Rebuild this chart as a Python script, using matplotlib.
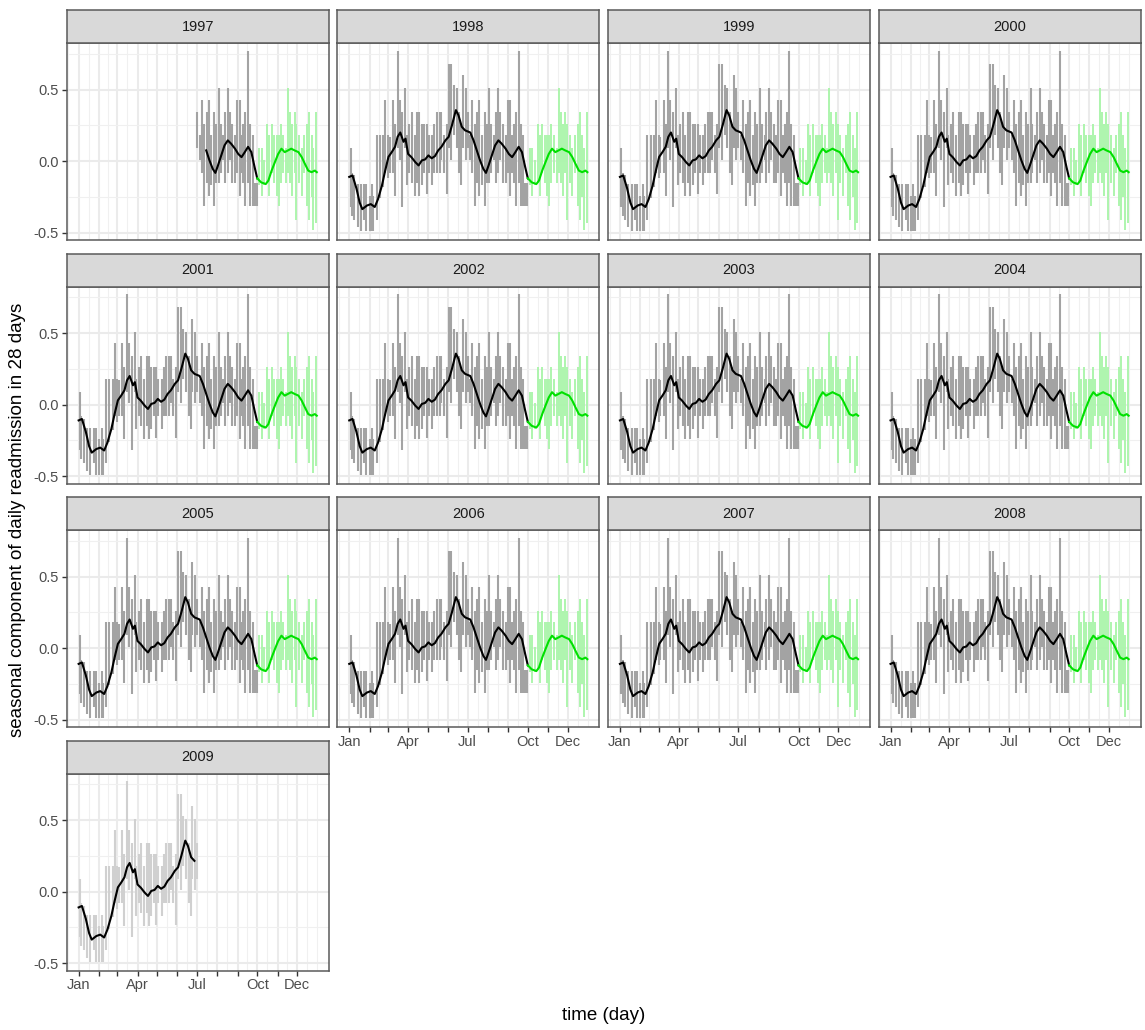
import numpy as np
import matplotlib
matplotlib.use("Agg")
import matplotlib.pyplot as plt

plt.rcParams['font.family'] = ['Liberation Sans', 'DejaVu Sans']

years = list(range(1997, 2010))

# daily seasonal component, read as spikes (day of year, top, bottom)
spike_day = [2, 4, 8, 13, 18, 23, 26, 31, 35, 37, 42, 47, 52, 55, 59, 62, 67, 70, 74, 77,
             81, 86, 88, 92, 96, 100, 104, 107, 111, 115, 119, 122, 127, 130, 134, 138, 141, 145, 149, 152,
             156, 160, 164, 168, 171, 174, 178, 181, 185, 188, 192, 196, 199, 203, 207, 210, 214, 217, 221, 224,
             228, 231, 235, 239, 242, 246, 249, 252, 255, 259, 262, 266, 269, 272, 276, 280, 284, 288, 291, 295,
             299, 303, 306, 309, 313, 317, 320, 323, 326, 330, 333, 337, 341, 345, 349, 352, 356, 359, 363]
spike_hi = [0.09, -0.08, -0.10, -0.16, -0.16, -0.16, -0.16, -0.24, -0.16, -0.24, 0.18, 0.18, 0.18, 0.43, 0.18, 0.17, 0.43, 0.26, 0.77, 0.43,
            0.34, 0.51, 0.18, 0.26, 0.34, 0.18, 0.34, 0.34, 0.26, 0.26, 0.26, 0.18, 0.18, 0.26, 0.34, 0.34, 0.34, 0.18, 0.26, 0.68,
            0.68, 0.53, 0.51, 0.34, 0.26, 0.60, 0.51, 0.34, 0.18, 0.43, 0.26, 0.34, 0.43, 0.18, 0.34, 0.26, 0.51, 0.26, 0.18, 0.34,
            0.51, 0.34, 0.26, 0.18, 0.43, 0.43, 0.18, 0.26, 0.34, 0.77, 0.26, 0.18, -0.15, -0.15, 0.09, 0.09, 0.01, 0.26, 0.18, 0.26,
            0.18, 0.18, 0.18, 0.26, 0.18, 0.09, 0.51, 0.34, 0.26, 0.34, 0.26, 0.18, 0.09, 0.18, 0.26, 0.34, 0.18, 0.09, 0.34]
spike_lo = [-0.32, -0.38, -0.41, -0.46, -0.49, -0.41, -0.49, -0.49, -0.49, -0.49, -0.41, -0.26, -0.18, -0.08, -0.12, -0.08, -0.08, -0.24, 0.09, 0.01,
            -0.32, 0.09, -0.17, -0.08, -0.15, -0.24, -0.15, -0.24, -0.17, -0.08, -0.23, -0.08, -0.17, -0.08, -0.08, -0.08, 0.01, -0.08, -0.23, 0.09,
            0.01, 0.18, 0.09, -0.08, -0.17, 0.09, 0.01, 0.09, 0.01, -0.08, -0.31, -0.15, -0.24, -0.17, -0.31, -0.15, -0.15, -0.08, 0.01, -0.15,
            -0.08, 0.01, -0.15, -0.15, -0.08, -0.24, -0.08, -0.15, -0.31, -0.15, -0.31, -0.31, -0.31, -0.31, -0.17, -0.24, -0.17, -0.15, -0.24, -0.08,
            -0.15, -0.24, -0.31, -0.15, -0.08, -0.15, -0.08, -0.15, -0.24, -0.08, -0.41, -0.15, -0.24, -0.08, -0.31, -0.41, -0.25, -0.48, -0.43]

# moving average of the seasonal component
smooth_day = [0, 5, 11, 16, 20, 27, 33, 39, 44, 50, 55, 60, 65, 70, 74, 78, 83, 86, 90, 95,
              101, 106, 111, 116, 121, 126, 131, 136, 141, 147, 152, 157, 163, 167, 172, 177, 185, 190, 195, 200,
              205, 209, 213, 218, 223, 228, 233, 239, 244, 249, 254, 259, 264, 269, 273, 279, 286, 290, 295, 300,
              305, 310, 315, 320, 325, 330, 336, 341, 346, 351, 356, 361, 364]
smooth_val = [-0.11, -0.10, -0.19, -0.29, -0.335, -0.31, -0.30, -0.32, -0.265, -0.17, -0.065, 0.03, 0.063, 0.10, 0.17, 0.20, 0.135, 0.157, 0.05, 0.028,
              -0.007, -0.03, 0.005, 0.012, 0.04, 0.02, 0.035, 0.075, 0.10, 0.145, 0.17, 0.25, 0.356, 0.32, 0.24, 0.215, 0.20, 0.145, 0.075, 0.005,
              -0.054, -0.082, -0.03, 0.04, 0.11, 0.145, 0.122, 0.087, 0.05, 0.028, 0.063, 0.10, 0.063, -0.042, -0.12, -0.148, -0.16, -0.136, -0.066, -0.007,
              0.05, 0.087, 0.063, 0.075, 0.087, 0.075, 0.063, 0.028, -0.02, -0.066, -0.077, -0.066, -0.077]

month_start = [0, 31, 59, 90, 120, 151, 181, 212, 243, 273, 304, 334]
month_lab = ["Jan", "", "", "Apr", "", "", "Jul", "", "", "Oct", "", "Dec"]
minor_x = [-15.5, 15.5, 45, 74.5, 105, 135.5, 166, 196.5, 227.5, 258, 288.5, 319, 349.5, 365]

oct_day = 273
first_day = {1997: 181}
last_day = {2009: 181}

W, H = 1145, 1030
fig = plt.figure(figsize=(W / 100, H / 100), dpi=100)

col_left = [66.7, 337.3, 608.0, 878.6]
row_top = [43.3, 286.8, 530.3, 773.8]
pw, ph, sh = 262, 197, 33
edge = '#5a5a5a'


def frac(x0, y0, w, h):
    return [x0 / W, 1 - (y0 + h) / H, w / W, h / H]


sd = np.array(spike_day)
shi = np.array(spike_hi)
slo = np.array(spike_lo)
md = np.array(smooth_day)
mv = np.array(smooth_val)

for k, yr in enumerate(years):
    r, c = k // 4, k % 4
    ax = fig.add_axes(frac(col_left[c], row_top[r], pw, ph))
    st = fig.add_axes(frac(col_left[c], row_top[r] - sh, pw, sh))
    st.set_facecolor('#d9d9d9')
    st.set_xticks([])
    st.set_yticks([])
    for s in st.spines.values():
        s.set_color(edge)
        s.set_linewidth(1.1)
    st.text(0.5, 0.5, str(yr), ha='center', va='center', fontsize=10.5, color='#1a1a1a',
            transform=st.transAxes)

    ax.set_xlim(-18.25, 382.25)
    ax.set_ylim(-0.5525, 0.8225)
    for x in minor_x:
        ax.axvline(x, color='#f0f0f0', lw=0.8, zorder=0)
    for x in month_start:
        ax.axvline(x, color='#ebebeb', lw=1.5, zorder=0)
    for y in [-0.25, 0.25, 0.75]:
        ax.axhline(y, color='#f0f0f0', lw=0.8, zorder=0)
    for y in [-0.5, 0.0, 0.5]:
        ax.axhline(y, color='#ebebeb', lw=1.5, zorder=0)

    d0 = first_day.get(yr, -1)
    d1 = last_day.get(yr, 400)
    keep = (sd >= d0) & (sd <= d1)
    grey_c = '#d0d0d0' if yr == 2009 else '#a3a3a3'

    m = keep & (sd < oct_day)
    ax.vlines(sd[m], slo[m], shi[m], color=grey_c, lw=1.5, zorder=2)
    m = keep & (sd >= oct_day)
    if m.any():
        ax.vlines(sd[m], slo[m], shi[m], color='#adf5ad', lw=1.4, zorder=2)

    s0 = 195 if yr == 1997 else -1
    keep = (md >= s0) & (md <= d1)
    m = keep & (md <= oct_day)
    ax.plot(md[m], mv[m], color='black', lw=1.5, zorder=3)
    m = keep & (md >= oct_day)
    if m.any():
        ax.plot(md[m], mv[m], color='#00e000', lw=1.5, zorder=3)

    for s in ax.spines.values():
        s.set_color(edge)
        s.set_linewidth(1.1)

    ax.set_yticks([-0.5, 0.0, 0.5])
    ax.set_xticks(month_start)
    ax.tick_params(length=3.5, width=1.0, color='#333333', labelsize=10.5, labelcolor='#4d4d4d', pad=2)
    if c == 0:
        ax.set_yticklabels(["-0.5", "0.0", "0.5"])
    else:
        ax.tick_params(axis='y', left=False, labelleft=False)
    if k >= 9:
        ax.set_xticklabels(month_lab)
    else:
        ax.tick_params(axis='x', bottom=False, labelbottom=False)

fig.text(604 / W, 1 - 1016 / H, "time (day)", ha='center', va='center', fontsize=13.5, color='black')
fig.text(18 / W, 1 - 520 / H, "seasonal component of daily readmission in 28 days", rotation=90,
         ha='center', va='center', fontsize=13.5, color='black')

fig.savefig("out.png", dpi=100)
